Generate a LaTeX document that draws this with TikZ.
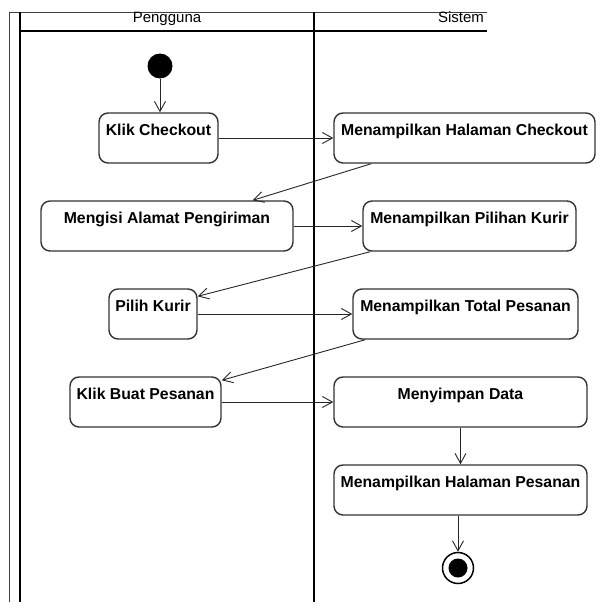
\documentclass[tikz,border=0pt]{standalone}
\usepackage{fontspec}
\setmainfont{Liberation Sans}
\usetikzlibrary{arrows.meta}

\begin{document}
\begin{tikzpicture}[x=1pt, y=-1pt,
    act/.style={draw=black!80, line width=1.4pt, rounded corners=9pt, fill=white,
      font=\fontsize{15.8}{18}\selectfont\bfseries, inner sep=0pt,
      text height=22pt, text depth=28pt},
    flow/.style={-{Straight Barb[length=10pt,width=11pt]}, line width=0.9pt, black!85},
    lane/.style={line width=2.5pt},
    hdr/.style={font=\fontsize{15}{18}\selectfont, anchor=base, inner sep=0pt}]
    \useasboundingbox (0,0) rectangle (603,608);
    \draw[black!75, line width=1pt] (9.5,602) -- (9.5,12) -- (487,12);
    \draw[lane] (20,31) -- (487,31);
    \draw[lane] (20,12) -- (20,602);
    \draw[lane] (314,12) -- (314,602);
    \node[hdr] (hpengguna) at (167,22.7) {Pengguna};
    \node[hdr] (hsistem) at (461,22.7) {Sistem};

    \node[circle, fill=black, minimum size=25pt, inner sep=0pt] (mulai) at (160,66) {};
    \node[act, minimum width=119pt] (checkout) at (158.5,138) {Klik Checkout};
    \node[act, minimum width=261pt] (hcheckout) at (464.5,138) {Menampilkan Halaman Checkout};
    \node[act, minimum width=252pt] (alamat) at (167,226) {Mengisi Alamat Pengiriman};
    \node[act, minimum width=213pt] (pkurir) at (469.5,226) {Menampilkan Pilihan Kurir};
    \node[act, minimum width=88pt] (pilih) at (153,314) {Pilih Kurir};
    \node[act, minimum width=225pt] (total) at (465.5,314) {Menampilkan Total Pesanan};
    \node[act, minimum width=151pt] (buat) at (145.5,402) {Klik Buat Pesanan};
    \node[act, minimum width=253pt] (simpan) at (460.5,402) {Menyimpan Data};
    \node[act, minimum width=253pt] (hpesanan) at (460.5,490) {Menampilkan Halaman Pesanan};
    \node[circle, draw, line width=1.5pt, minimum size=31pt, inner sep=0pt] (selesai) at (458,568) {};
    \fill (selesai.center) circle (9.5pt);

    \draw[flow] (mulai) -- (checkout.north -| mulai);
    \draw[flow] (checkout) -- (hcheckout);
    \draw[flow] ([xshift=38pt]hcheckout.south west) -- ([xshift=-41pt]alamat.north east);
    \draw[flow] (alamat) -- (pkurir);
    \draw[flow] ([xshift=8pt]pkurir.south west) -- ([yshift=-8pt]pilih.north east);
    \draw[flow] (pilih) -- (total);
    \draw[flow] ([xshift=13pt]total.south west) -- ([yshift=-4pt]buat.north east);
    \draw[flow] (buat) -- (simpan);
    \draw[flow] (simpan) -- (hpesanan);
    \draw[flow] (hpesanan.south -| selesai) -- (selesai);
\end{tikzpicture}
\end{document}
